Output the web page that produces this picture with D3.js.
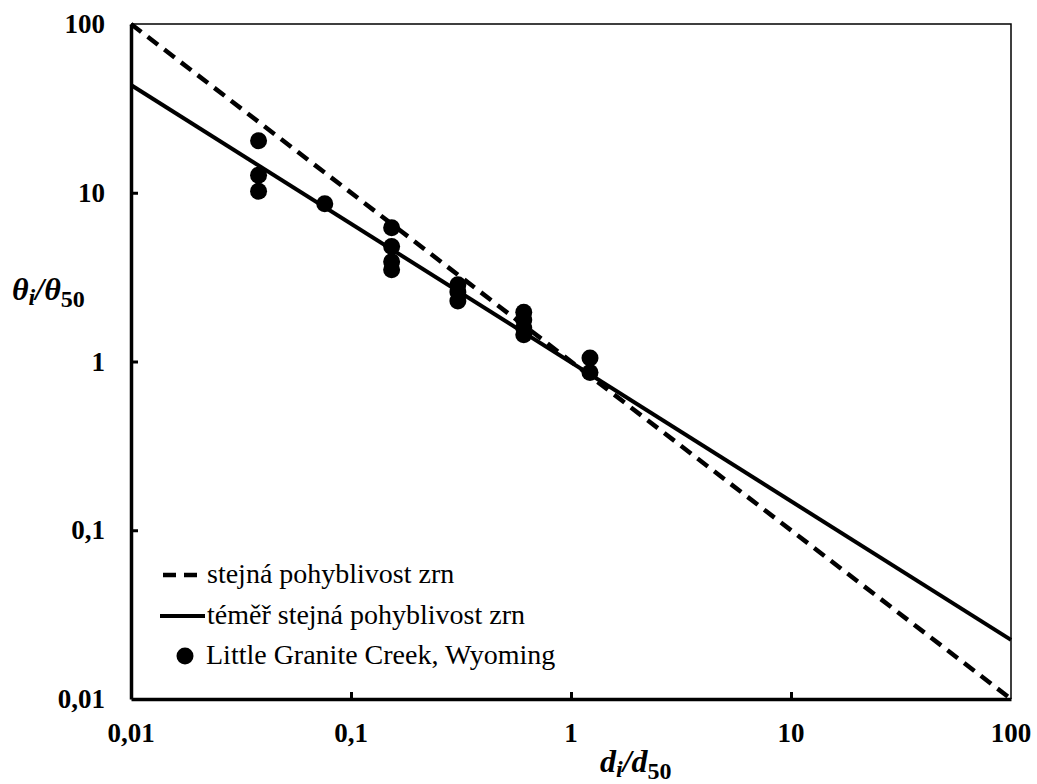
<!DOCTYPE html>
<html>
<head>
<meta charset="utf-8">
<script src="https://cdn.jsdelivr.net/npm/d3@7"></script>
<style>
  html, body { margin: 0; padding: 0; background: #fff; }
  svg { display: block; }
  #chart text { font-family: "Liberation Serif", Tinos, "Times New Roman", serif; fill: #000; }
</style>
</head>
<body>
<svg id="chart" width="1037" height="784"></svg>
<script>
// Relative grain size d_i/d50 and relative Shields stress θ_i/θ50
const obsX = [0.038, 0.038, 0.038,
              0.076,
              0.153, 0.153, 0.153, 0.153,
              0.306, 0.306, 0.306,
              0.61, 0.61, 0.61, 0.61,
              1.22, 1.22];
const obsY = [20.3, 12.7, 10.2,
              8.6,
              6.2, 4.8, 3.9, 3.5,
              2.85, 2.58, 2.28,
              1.96, 1.76, 1.58, 1.44,
              1.05, 0.86];

// Reference lines drawn between the axis limits
const lineX = [0.01, 100];
const equalMobilityY = [100, 0.01];        // θi/θ50 = (di/d50)^-1
const nearEqualMobilityY = [43.5, 0.0224]; // θi/θ50 ≈ (di/d50)^-0.82

const tickValues = [0.01, 0.1, 1, 10, 100];
const tickLabels = ["0,01", "0,1", "1", "10", "100"];

const legendLabels = ["stejná pohyblivost zrn",
                      "téměř stejná pohyblivost zrn",
                      "Little Granite Creek, Wyoming"];

const FONT = "'Liberation Serif', Tinos, 'Times New Roman', serif";

const svg = d3.select("#chart");
const plotLeft = 131, plotRight = 1011, plotTop = 24, plotBottom = 699;

const x = d3.scaleLog().domain([0.01, 100]).range([plotLeft, plotRight]);
const y = d3.scaleLog().domain([0.01, 100]).range([plotBottom, plotTop]);

// Thin top and right frame
svg.append("path")
  .attr("d", `M${plotLeft},${plotTop}H${plotRight}V${plotBottom}`)
  .attr("fill", "none").attr("stroke", "#000").attr("stroke-width", 1.5);

// Lines
const line = d3.line().x(d => x(d[0])).y(d => y(d[1]));
svg.append("path")
  .datum(lineX.map((v, i) => [v, nearEqualMobilityY[i]]))
  .attr("d", line).attr("fill", "none")
  .attr("stroke", "#000").attr("stroke-width", 4);
svg.append("path")
  .datum(lineX.map((v, i) => [v, equalMobilityY[i]]))
  .attr("d", line).attr("fill", "none")
  .attr("stroke", "#000").attr("stroke-width", 4.5)
  .attr("stroke-dasharray", "13,8");

// Observations
svg.append("g").selectAll("circle")
  .data(obsX.map((v, i) => [v, obsY[i]]))
  .join("circle")
  .attr("cx", d => x(d[0])).attr("cy", d => y(d[1]))
  .attr("r", 8.5).attr("fill", "#000");

// Axes: ticks pointing into the plot, labels drawn separately
const fmt = v => tickLabels[tickValues.indexOf(v)];
const xAxis = svg.append("g").attr("transform", `translate(0,${plotBottom})`)
  .call(d3.axisBottom(x).tickValues(tickValues.slice(1, -1)).tickSizeInner(-7).tickSizeOuter(0).tickFormat(""));
const yAxis = svg.append("g").attr("transform", `translate(${plotLeft},0)`)
  .call(d3.axisLeft(y).tickValues(tickValues.slice(1, -1)).tickSizeInner(-7).tickSizeOuter(0).tickFormat(""));
[xAxis, yAxis].forEach(g => {
  g.select(".domain").attr("stroke-width", 3.5);
  g.selectAll(".tick line").attr("stroke-width", 3);
});

svg.append("g").selectAll("text")
  .data(tickValues).join("text")
  .style("font-family", FONT)
  .attr("x", d => x(d)).attr("y", 742)
  .attr("text-anchor", "middle")
  .attr("font-size", 27).attr("font-weight", "bold")
  .text(fmt);

svg.append("g").selectAll("text")
  .data(tickValues).join("text")
  .style("font-family", FONT)
  .attr("x", 105).attr("y", d => y(d) + 9)
  .attr("text-anchor", "end")
  .attr("font-size", 27).attr("font-weight", "bold")
  .text(fmt);

// Axis titles
const yTitle = svg.append("text").style("font-family", FONT)
  .attr("x", 12).attr("y", 300)
  .attr("font-weight", "bold").attr("font-size", 32);
yTitle.append("tspan").attr("font-style", "italic").text("θ");
yTitle.append("tspan").attr("font-style", "italic").attr("font-size", 24).attr("dy", 5).text("i");
yTitle.append("tspan").attr("font-style", "italic").attr("dy", -5).text("/θ");
yTitle.append("tspan").attr("font-size", 24).attr("dy", 7).text("50");

const xTitle = svg.append("text").style("font-family", FONT)
  .attr("x", 600).attr("y", 772)
  .attr("font-weight", "bold").attr("font-size", 32);
xTitle.append("tspan").attr("font-style", "italic").text("d");
xTitle.append("tspan").attr("font-style", "italic").attr("font-size", 24).attr("dy", 5).text("i");
xTitle.append("tspan").attr("font-style", "italic").attr("dy", -5).text("/d");
xTitle.append("tspan").attr("font-size", 24).attr("dy", 7).text("50");

// Legend
const legend = svg.append("g");
const rowsY = [575, 616, 656];
legend.append("line").attr("x1", 163).attr("x2", 205).attr("y1", rowsY[0]).attr("y2", rowsY[0])
  .attr("stroke", "#000").attr("stroke-width", 4.5).attr("stroke-dasharray", "13,8");
legend.append("line").attr("x1", 160).attr("x2", 205).attr("y1", rowsY[1]).attr("y2", rowsY[1])
  .attr("stroke", "#000").attr("stroke-width", 4);
legend.append("circle").attr("cx", 185).attr("cy", rowsY[2]).attr("r", 8.5).attr("fill", "#000");
legend.selectAll("text").data(legendLabels).join("text")
  .style("font-family", FONT)
  .attr("x", (d, i) => i === 2 ? 206 : 207)
  .attr("y", (d, i) => rowsY[i] + 8)
  .attr("font-size", 28)
  .text(d => d);
</script>
</body>
</html>
